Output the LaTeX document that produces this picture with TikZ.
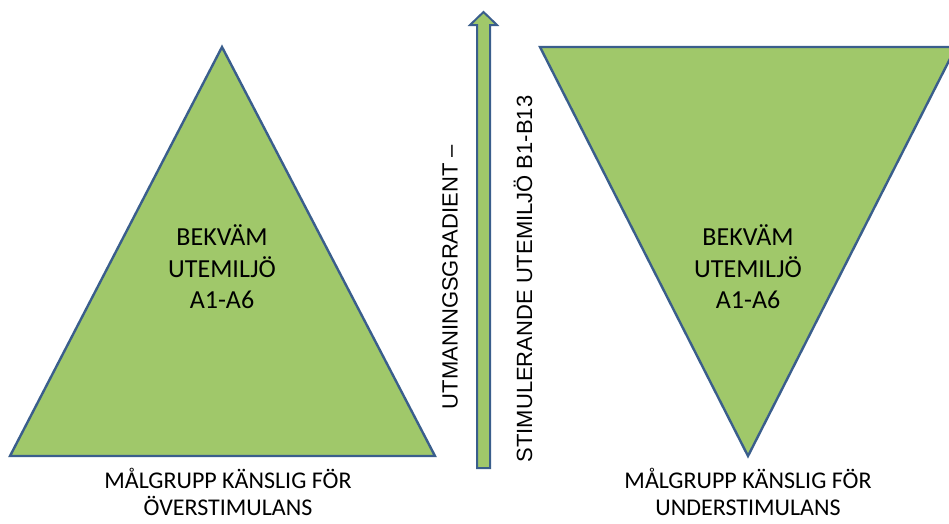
\documentclass[tikz,border=0pt]{standalone}
\usepackage{fontspec}
\setmainfont{Carlito}
\newfontfamily\arialfont{Liberation Sans}
\usepackage{tikz}
\usetikzlibrary{positioning}

\definecolor{zonegreen}{RGB}{160,200,106}
\definecolor{zoneblue}{RGB}{58,94,140}

\tikzset{
  zone/.style={fill=zonegreen, draw=zoneblue, line width=2.4pt, line join=miter},
  zonetext/.style={align=center, font=\fontsize{26}{31.5}\selectfont},
  grouptext/.style={align=center, inner sep=1pt, font=\fontsize{24}{27}\selectfont},
  axistext/.style={rotate=90, font=\arialfont\fontsize{22}{26}\selectfont}
}

\begin{document}
\begin{tikzpicture}[x=1pt, y=-1pt]
    \useasboundingbox (0,0) rectangle (949,523);

    % Corners
    \coordinate (Lapex) at (222,47);
    \coordinate (Lleft) at (10,456);
    \coordinate (Lright) at (435,456);
    \coordinate (Rleft) at (540,47);
    \coordinate (Rright) at (956,47);
    \coordinate (Rapex) at (748,456);

    % Triangles
    \draw[zone] (Lapex) -- (Lright) -- (Lleft) -- cycle;
    \begin{scope}
        \clip (0,0) rectangle (949,523);
        \draw[zone] (Rleft) -- (Rright) -- (Rapex) -- cycle;
    \end{scope}

    % Gradient arrow
    \draw[zone, line width=2pt] (477,468) -- (477,25) -- (470,25) -- (483.5,12)
        -- (497,25) -- (490,25) -- (490,468) -- cycle;

    % Labels
    \node[zonetext] (comfortL) at (222,267) {BEKVÄM\\UTEMILJÖ\\A1-A6};
    \node[zonetext] (comfortR) at (748,267) {BEKVÄM\\UTEMILJÖ\\A1-A6};
    \node[grouptext] (groupL) at (228,492) {MÅLGRUPP KÄNSLIG FÖR\\ÖVERSTIMULANS};
    \node[grouptext] (groupR) at (748,492) {MÅLGRUPP KÄNSLIG FÖR\\UNDERSTIMULANS};
    \node[axistext] (gradient) at (450,277) {UTMANINGSGRADIENT –};
    \node[axistext] (stimulus) at (523,279) {STIMULERANDE UTEMILJÖ B1-B13};
\end{tikzpicture}
\end{document}
